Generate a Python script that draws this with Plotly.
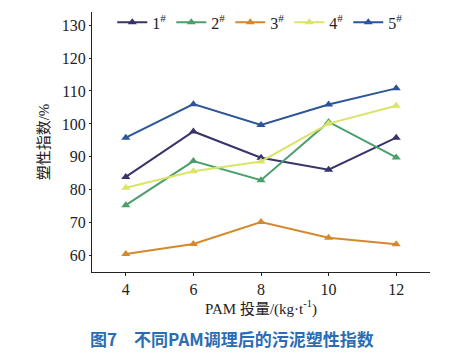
import plotly.graph_objects as go

x_dose = [4, 6, 8, 10, 12]
s1 = [83.9, 97.7, 89.7, 86.1, 95.8]
s2 = [75.3, 88.7, 82.9, 100.6, 89.8]
s3 = [60.5, 63.5, 70.2, 65.4, 63.4]
s4 = [80.6, 85.6, 88.6, 100.1, 105.5]
s5 = [95.8, 106.0, 99.7, 105.9, 110.8]
names = ["1<sup>#</sup>", "2<sup>#</sup>", "3<sup>#</sup>", "4<sup>#</sup>", "5<sup>#</sup>"]
colors = ["#38346a", "#4b9f6c", "#d3892c", "#dbe466", "#2e5597"]
series = [s1, s2, s3, s4, s5]

fig = go.Figure()
for n, c, s in zip(names, colors, series):
    fig.add_trace(go.Scatter(x=x_dose, y=s, name=n, mode="lines+markers",
                             line=dict(color=c, width=2),
                             marker=dict(symbol="triangle-up", size=8, color=c)))

serif = "Liberation Serif, Times New Roman, Noto Sans CJK SC, serif"
fig.update_layout(
    width=472, height=353,
    margin=dict(l=92, r=42, t=5, b=81),
    paper_bgcolor="white", plot_bgcolor="white",
    font=dict(family=serif, size=16, color="#222"),
    showlegend=True,
    legend=dict(orientation="h", x=0.06, y=0.96, xanchor="left", yanchor="middle",
                font=dict(size=16, family=serif), itemwidth=30,
                bgcolor="rgba(0,0,0,0)", tracegroupgap=0),
    xaxis=dict(range=[3, 13], tickvals=x_dose, showline=True, linecolor="#222",
               linewidth=1.2, showgrid=False, zeroline=False, ticks="outside",
               ticklen=3, tickcolor="#222", tickfont=dict(size=16),
               title=dict(text="PAM 投量/(kg·t<sup>-1</sup>)", font=dict(size=15, family=serif), standoff=4)),
    yaxis=dict(range=[55, 134], tickvals=[60, 70, 80, 90, 100, 110, 120, 130],
               showline=True, linecolor="#222", linewidth=1.2, showgrid=False,
               zeroline=False, ticks="outside", ticklen=2, tickcolor="#222",
               tickfont=dict(size=16),
               title=dict(text="塑性指数/%", font=dict(size=15, family=serif), standoff=8)),
)
fig.add_annotation(text="<b>图7　不同PAM调理后的污泥塑性指数</b>", xref="paper", yref="paper",
                   x=0.415, y=-0.255, xanchor="center", yanchor="middle", showarrow=False,
                   font=dict(size=17, color="#2a6db5", family="Noto Sans CJK SC, sans-serif"))
fig.write_html("out.html")
